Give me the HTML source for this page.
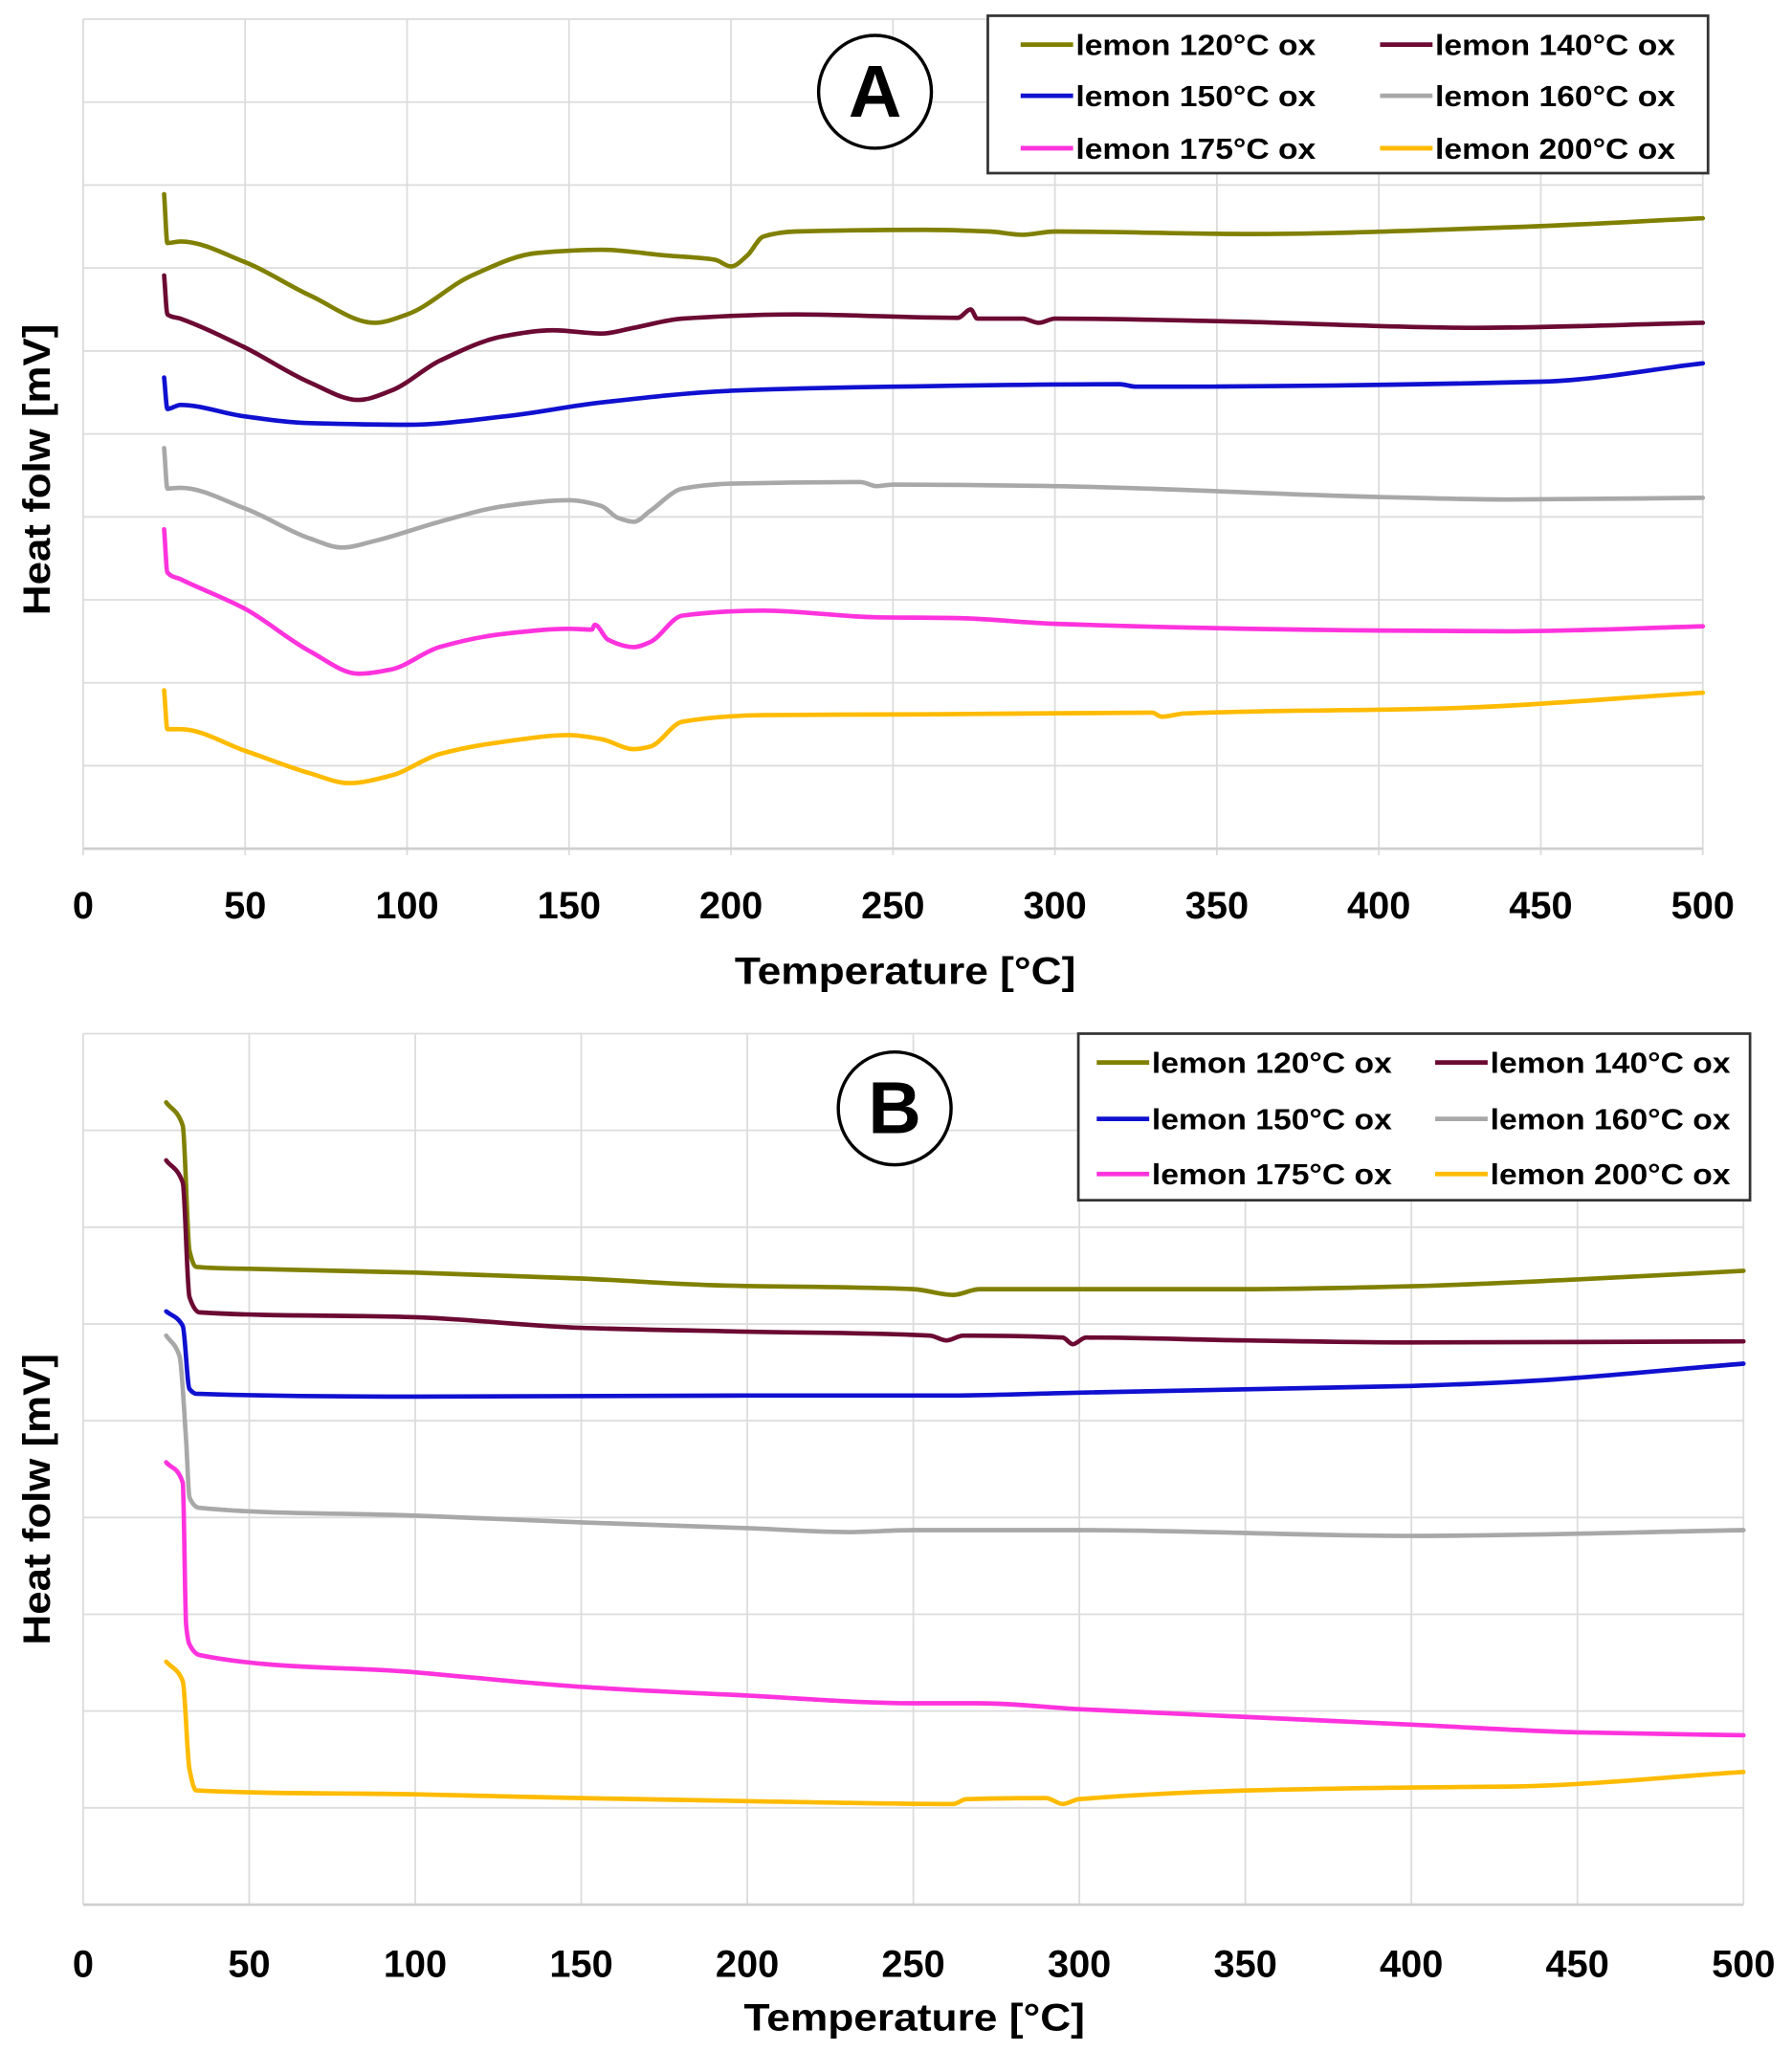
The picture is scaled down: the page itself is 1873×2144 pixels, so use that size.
<!DOCTYPE html>
<html><head><meta charset="utf-8"><style>
html,body{margin:0;padding:0;background:#fff;}
svg{display:block;}
text{font-family:"Liberation Sans",sans-serif;font-weight:bold;fill:#000;}
</style></head><body>
<svg id="fig" width="1873" height="2144" viewBox="0 0 1366 1563.6" preserveAspectRatio="none" xmlns="http://www.w3.org/2000/svg"></svg>
<script>
const xTicks=[0,50,100,150,200,250,300,350,400,450,500];
const seriesNames=["lemon 120°C ox","lemon 140°C ox","lemon 150°C ox","lemon 160°C ox","lemon 175°C ox","lemon 200°C ox"];
const seriesColors=["#808000","#6b0a33","#1010d0","#a8a8a8","#ff33dd","#ffbb00"];
// Panel A (y in grid units 0..10)
const a120T=[25,26,30,50,70,90,100,120,140,160,180,195,200,205,210,220,260,280,290,300,360,440,500];
const a120V=[7.89,7.30,7.32,7.07,6.67,6.34,6.44,6.91,7.18,7.22,7.15,7.10,7.02,7.15,7.38,7.44,7.46,7.44,7.40,7.44,7.41,7.49,7.60];
const a140T=[25,26,30,50,70,85,95,110,130,145,160,170,185,220,270,274,276,290,295,300,350,430,500];
const a140V=[6.91,6.44,6.39,6.04,5.62,5.41,5.52,5.88,6.18,6.25,6.21,6.28,6.39,6.44,6.40,6.50,6.39,6.39,6.34,6.39,6.36,6.28,6.34];
const a150T=[25,26,30,50,70,100,130,160,200,250,320,325,450,500];
const a150V=[5.68,5.30,5.35,5.21,5.13,5.11,5.21,5.38,5.52,5.57,5.60,5.57,5.63,5.85];
const a160T=[25,26,30,50,70,80,90,110,130,150,160,165,170,175,185,200,240,245,250,300,400,440,500];
const a160V=[4.83,4.34,4.35,4.10,3.74,3.63,3.71,3.94,4.13,4.20,4.13,3.99,3.94,4.07,4.34,4.40,4.42,4.37,4.39,4.37,4.24,4.21,4.23];
const a175T=[25,26,30,50,70,85,95,110,130,150,157,158,162,170,175,185,210,245,270,300,400,440,500];
const a175V=[3.85,3.33,3.25,2.89,2.38,2.11,2.16,2.43,2.59,2.65,2.64,2.70,2.52,2.43,2.49,2.81,2.87,2.79,2.78,2.71,2.63,2.62,2.68];
const a200T=[25,26,30,50,70,82,95,110,130,150,160,170,175,185,210,260,330,333,340,420,500];
const a200V=[1.91,1.44,1.44,1.18,0.91,0.79,0.88,1.14,1.29,1.37,1.32,1.20,1.23,1.53,1.61,1.62,1.64,1.59,1.63,1.69,1.88];
// Panel B (y in grid units 0..9)
const b120T=[25,30,32,34,50,100,150,190,250,262,270,300,350,400,450,500];
const b120V=[8.29,8.05,6.76,6.59,6.57,6.53,6.47,6.40,6.36,6.30,6.36,6.36,6.36,6.39,6.46,6.55];
const b140T=[25,30,32,35,100,150,200,255,260,265,295,298,302,350,400,500];
const b140V=[7.69,7.46,6.28,6.12,6.07,5.96,5.92,5.88,5.83,5.88,5.86,5.79,5.86,5.83,5.81,5.82];
const b150T=[25,30,32,34,100,200,260,300,400,430,500];
const b150V=[6.13,5.98,5.33,5.28,5.25,5.26,5.26,5.29,5.36,5.40,5.59];
const b160T=[25,29,31,32,35,100,150,200,230,250,300,400,500];
const b160V=[5.88,5.67,4.79,4.21,4.10,4.02,3.95,3.89,3.85,3.87,3.87,3.81,3.87];
const b175T=[25,30,31,32,35,100,150,200,250,270,300,350,400,450,500];
const b175V=[4.57,4.36,2.89,2.69,2.58,2.40,2.25,2.16,2.08,2.08,2.02,1.94,1.86,1.78,1.75];
const b200T=[25,30,32,34,100,150,200,262,266,290,295,300,400,430,500];
const b200V=[2.51,2.31,1.40,1.18,1.14,1.10,1.07,1.04,1.09,1.10,1.04,1.09,1.21,1.22,1.37];

const NS="http://www.w3.org/2000/svg";
const svg=document.getElementById('fig');
function mk(tag,attrs,parent){const e=document.createElementNS(NS,tag);for(const k in attrs)e.setAttribute(k,attrs[k]);(parent||svg).appendChild(e);return e;}

// monotone cubic (Fritsch-Carlson) path through screen points
function monotonePath(xs,ys){
  const n=xs.length;
  if(n<3)return xs.map((x,i)=>(i?'L':'M')+x+' '+ys[i]).join(' ');
  const d=[],m=new Array(n);
  for(let i=0;i<n-1;i++)d.push((ys[i+1]-ys[i])/((xs[i+1]-xs[i])||1e-6));
  m[0]=d[0];m[n-1]=d[n-2];
  for(let i=1;i<n-1;i++){
    if(d[i-1]*d[i]<=0)m[i]=0;
    else{const h0=xs[i]-xs[i-1],h1=xs[i+1]-xs[i];m[i]=3*(h0+h1)/((2*h1+h0)/d[i-1]+(h1+2*h0)/d[i]);}
  }
  let p='M'+xs[0].toFixed(1)+' '+ys[0].toFixed(1);
  for(let i=0;i<n-1;i++){
    const h=(xs[i+1]-xs[i])/3;
    p+=' C'+(xs[i]+h).toFixed(1)+' '+(ys[i]+m[i]*h).toFixed(1)+' '+(xs[i+1]-h).toFixed(1)+' '+(ys[i+1]-m[i+1]*h).toFixed(1)+' '+xs[i+1].toFixed(1)+' '+ys[i+1].toFixed(1);
  }
  return p;
}

function panel(cfg){
  const g=mk('g',{});
  
  
  const sx=t=>cfg.x0+(cfg.x1-cfg.x0)*t/500;
  const sy=v=>cfg.y1-(cfg.y1-cfg.y0)*v/cfg.ny;
  for(let i=0;i<=cfg.ny;i++){
    const l=mk('line',{x1:cfg.x0,x2:cfg.x1,y1:sy(i),y2:sy(i),stroke:'#dcdcdc','stroke-width':1.3},g);
    
    
  }
  xTicks.forEach(t=>{
    const l=mk('line',{x1:sx(t),x2:sx(t),y1:cfg.y0,y2:cfg.y1+(cfg.tick?5:0),stroke:'#dcdcdc','stroke-width':1.3},g);
    
    
    const tx=mk('text',{x:sx(t),y:cfg.tickY,'text-anchor':'middle','font-size':29},g);
    tx.textContent=t;
    
    
  });
  const ax=mk('line',{x1:cfg.x0,x2:cfg.x1,y1:cfg.y1,y2:cfg.y1,stroke:'#cfcfcf','stroke-width':2},g);
  
  
  cfg.series.forEach((s,i)=>{
    const d=monotonePath(s[0].map(sx),s[1].map(sy));
    const p=mk('path',{d:d,fill:'none',stroke:seriesColors[i],'stroke-width':3.4,'stroke-linejoin':'round','stroke-linecap':'round'},g);
    
    
  });
  const xt=mk('text',{x:cfg.xtX,y:cfg.xtY,'text-anchor':'middle','font-size':29,textLength:260,lengthAdjust:'spacingAndGlyphs'},g);
  xt.textContent='Temperature [°C]';
  
  
  const yt=mk('text',{x:0,y:0,'text-anchor':'middle','font-size':29,textLength:222,lengthAdjust:'spacingAndGlyphs',transform:`translate(38 ${cfg.ytY}) rotate(-90)`},g);
  yt.textContent='Heat folw [mV]';
  
  
  const c=mk('ellipse',{cx:cfg.cx,cy:cfg.cy,rx:43,ry:43,fill:'#fff',stroke:'#000','stroke-width':2.5},g);
  
  
  const ct=mk('text',{x:cfg.cx,y:cfg.cy+19,'text-anchor':'middle','font-size':56},g);
  ct.textContent=cfg.letter;
  
  
  const L=cfg.leg;
  const lb=mk('rect',{x:L.x,y:L.y,width:L.w,height:L.h,fill:'#fff',stroke:'#333','stroke-width':2},g);
  
  
  seriesNames.forEach((n,i)=>{
    const col=i%2,row=Math.floor(i/2);
    const lx=L.c[col],ly=L.r[row];
    const seg=mk('line',{x1:lx,x2:lx+40,y1:ly,y2:ly,stroke:seriesColors[i],'stroke-width':3.5},g);
    
    
    const t=mk('text',{x:lx+42,y:ly+8,'font-size':22,textLength:183,lengthAdjust:'spacingAndGlyphs'},g);
    t.textContent=n;
    
    
  });
}
panel({name:'chart-a',letter:'A',x0:63.4,x1:1298,y0:14.6,y1:647,ny:10,tick:true,tickY:700,xtX:690,xtY:750,ytY:358,cx:667,cy:70,
  leg:{x:753,y:12,w:549,h:120,c:[778,1052],r:[34,73,113]},
  series:[[a120T,a120V],[a140T,a140V],[a150T,a150V],[a160T,a160V],[a175T,a175V],[a200T,a200V]]});
panel({name:'chart-b',letter:'B',x0:63.4,x1:1329,y0:788,y1:1452,ny:9,tick:false,tickY:1507,xtX:697,xtY:1548,ytY:1143,cx:682,cy:845,
  leg:{x:822,y:788,w:512,h:127,c:[836,1094],r:[810,853,895]},
  series:[[b120T,b120V],[b140T,b140V],[b150T,b150V],[b160T,b160V],[b175T,b175V],[b200T,b200V]]});
</script>
</body></html>
